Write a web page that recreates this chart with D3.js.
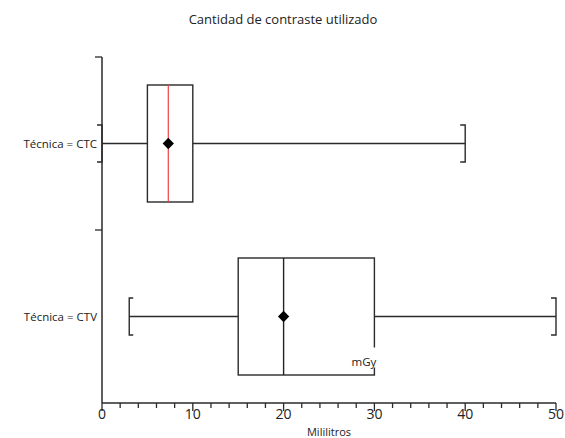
<!DOCTYPE html>
<html>
<head>
<meta charset="utf-8">
<script src="https://cdn.jsdelivr.net/npm/d3@7"></script>
<style>
  body { margin: 0; background: #fff; }
  text { font-family: "Open Sans", "Noto Sans", Arial, sans-serif; fill: #222; }
</style>
</head>
<body>
<div id="chart"></div>
<script>
// Data
const categories = ["Técnica = CTC", "Técnica = CTV"];
const mins = [0, 3];
const q1s = [5, 15];
const medians = [7.3, 20];
const q3s = [10, 30];
const maxs = [40, 50];
const means = [7.3, 20];
const medianColors = ["#f04040", "#222"];
const majorTicks = [0, 10, 20, 30, 40, 50];
const minorTicks = [2, 4, 6, 8, 12, 14, 16, 18, 22, 24, 26, 28, 32, 34, 36, 38, 42, 44, 46, 48];

const W = 565, H = 438;
const svg = d3.select("#chart").append("svg").attr("width", W).attr("height", H);

const x = d3.scaleLinear().domain([0, 50]).range([102, 556]);
const y = d3.scaleBand().domain(categories).range([57, 403]);
const lineColor = "#2a2a2a";
const boxH = 117, capH = 37;

// Title
svg.append("text")
  .attr("x", 283).attr("y", 24)
  .attr("text-anchor", "middle")
  .style("font-size", "13px")
  .text("Cantidad de contraste utilizado");

// X axis
const xAxis = svg.append("g").attr("transform", `translate(0,${y.range()[1]})`);
xAxis.append("line")
  .attr("x1", x(0)).attr("x2", x(50))
  .attr("stroke", lineColor).attr("stroke-width", 1.5);
xAxis.selectAll(".major").data(majorTicks).enter().append("line")
  .attr("x1", d => x(d)).attr("x2", d => x(d))
  .attr("y1", 0).attr("y2", 8)
  .attr("stroke", lineColor).attr("stroke-width", 1.3);
xAxis.selectAll(".minor").data(minorTicks).enter().append("line")
  .attr("x1", d => x(d)).attr("x2", d => x(d))
  .attr("y1", 0).attr("y2", 5)
  .attr("stroke", lineColor).attr("stroke-width", 1.3);
xAxis.selectAll(".lbl").data(majorTicks).enter().append("text")
  .attr("x", d => x(d)).attr("y", 16)
  .attr("text-anchor", "middle")
  .style("font-size", "14px")
  .text(d => d);
svg.append("text")
  .attr("x", (x(0) + x(50)) / 2).attr("y", 436)
  .attr("text-anchor", "middle")
  .style("font-size", "11px")
  .text("Mililitros");

// Y axis
const yAxis = svg.append("g");
yAxis.append("line")
  .attr("x1", x(0)).attr("x2", x(0))
  .attr("y1", y.range()[0]).attr("y2", y.range()[1])
  .attr("stroke", lineColor).attr("stroke-width", 1.5);
yAxis.selectAll(".ytick").data(categories).enter().append("line")
  .attr("x1", x(0) - 7).attr("x2", x(0))
  .attr("y1", d => y(d)).attr("y2", d => y(d))
  .attr("stroke", lineColor).attr("stroke-width", 1.3);
yAxis.selectAll(".ylbl").data(categories).enter().append("text")
  .attr("x", 97)
  .attr("y", d => y(d) + y.bandwidth() / 2 + 4)
  .attr("text-anchor", "end")
  .style("font-size", "11.5px")
  .text(d => d);

// Box plots
categories.forEach((c, i) => {
  const cy = y(c) + y.bandwidth() / 2;
  const g = svg.append("g");
  const stroke = (sel) => sel.attr("stroke", lineColor).attr("stroke-width", 1.4).attr("fill", "none");

  // whiskers
  g.append("line").attr("x1", x(mins[i])).attr("x2", x(q1s[i]))
    .attr("y1", cy).attr("y2", cy).call(stroke);
  g.append("line").attr("x1", x(q3s[i])).attr("x2", x(maxs[i]))
    .attr("y1", cy).attr("y2", cy).call(stroke);

  // lower cap: serifs point inward unless it sits on the axis
  const lowDir = mins[i] === x.domain()[0] ? -5 : 4;
  g.append("path")
    .attr("d", `M${x(mins[i]) + lowDir},${cy - capH / 2}H${x(mins[i])}V${cy + capH / 2}H${x(mins[i]) + lowDir}`)
    .call(stroke);
  g.append("path")
    .attr("d", `M${x(maxs[i]) - 5},${cy - capH / 2}H${x(maxs[i])}V${cy + capH / 2}H${x(maxs[i]) - 5}`)
    .call(stroke);

  // box
  g.append("rect")
    .attr("x", x(q1s[i])).attr("y", cy - boxH / 2)
    .attr("width", x(q3s[i]) - x(q1s[i])).attr("height", boxH)
    .call(stroke);

  // median
  g.append("line")
    .attr("x1", x(medians[i])).attr("x2", x(medians[i]))
    .attr("y1", cy - boxH / 2).attr("y2", cy + boxH / 2)
    .attr("stroke", medianColors[i]).attr("stroke-width", i === 0 ? 1.2 : 1.4);

  // mean diamond
  g.append("path")
    .attr("d", d3.symbol().type(d3.symbolSquare).size(64)())
    .attr("transform", `translate(${x(means[i])},${cy}) rotate(45)`)
    .attr("fill", "#000");
});

// "mGy" note on the CTV box (covers the box edge)
const cyV = y(categories[1]) + y.bandwidth() / 2;
svg.append("rect")
  .attr("x", x(q3s[1]) - 26).attr("y", cyV + 31)
  .attr("width", 29).attr("height", 20)
  .attr("fill", "#fff");
svg.append("text")
  .attr("x", x(q3s[1]) + 2).attr("y", cyV + 49)
  .attr("text-anchor", "end")
  .style("font-size", "11.5px")
  .text("mGy");
</script>
</body>
</html>
